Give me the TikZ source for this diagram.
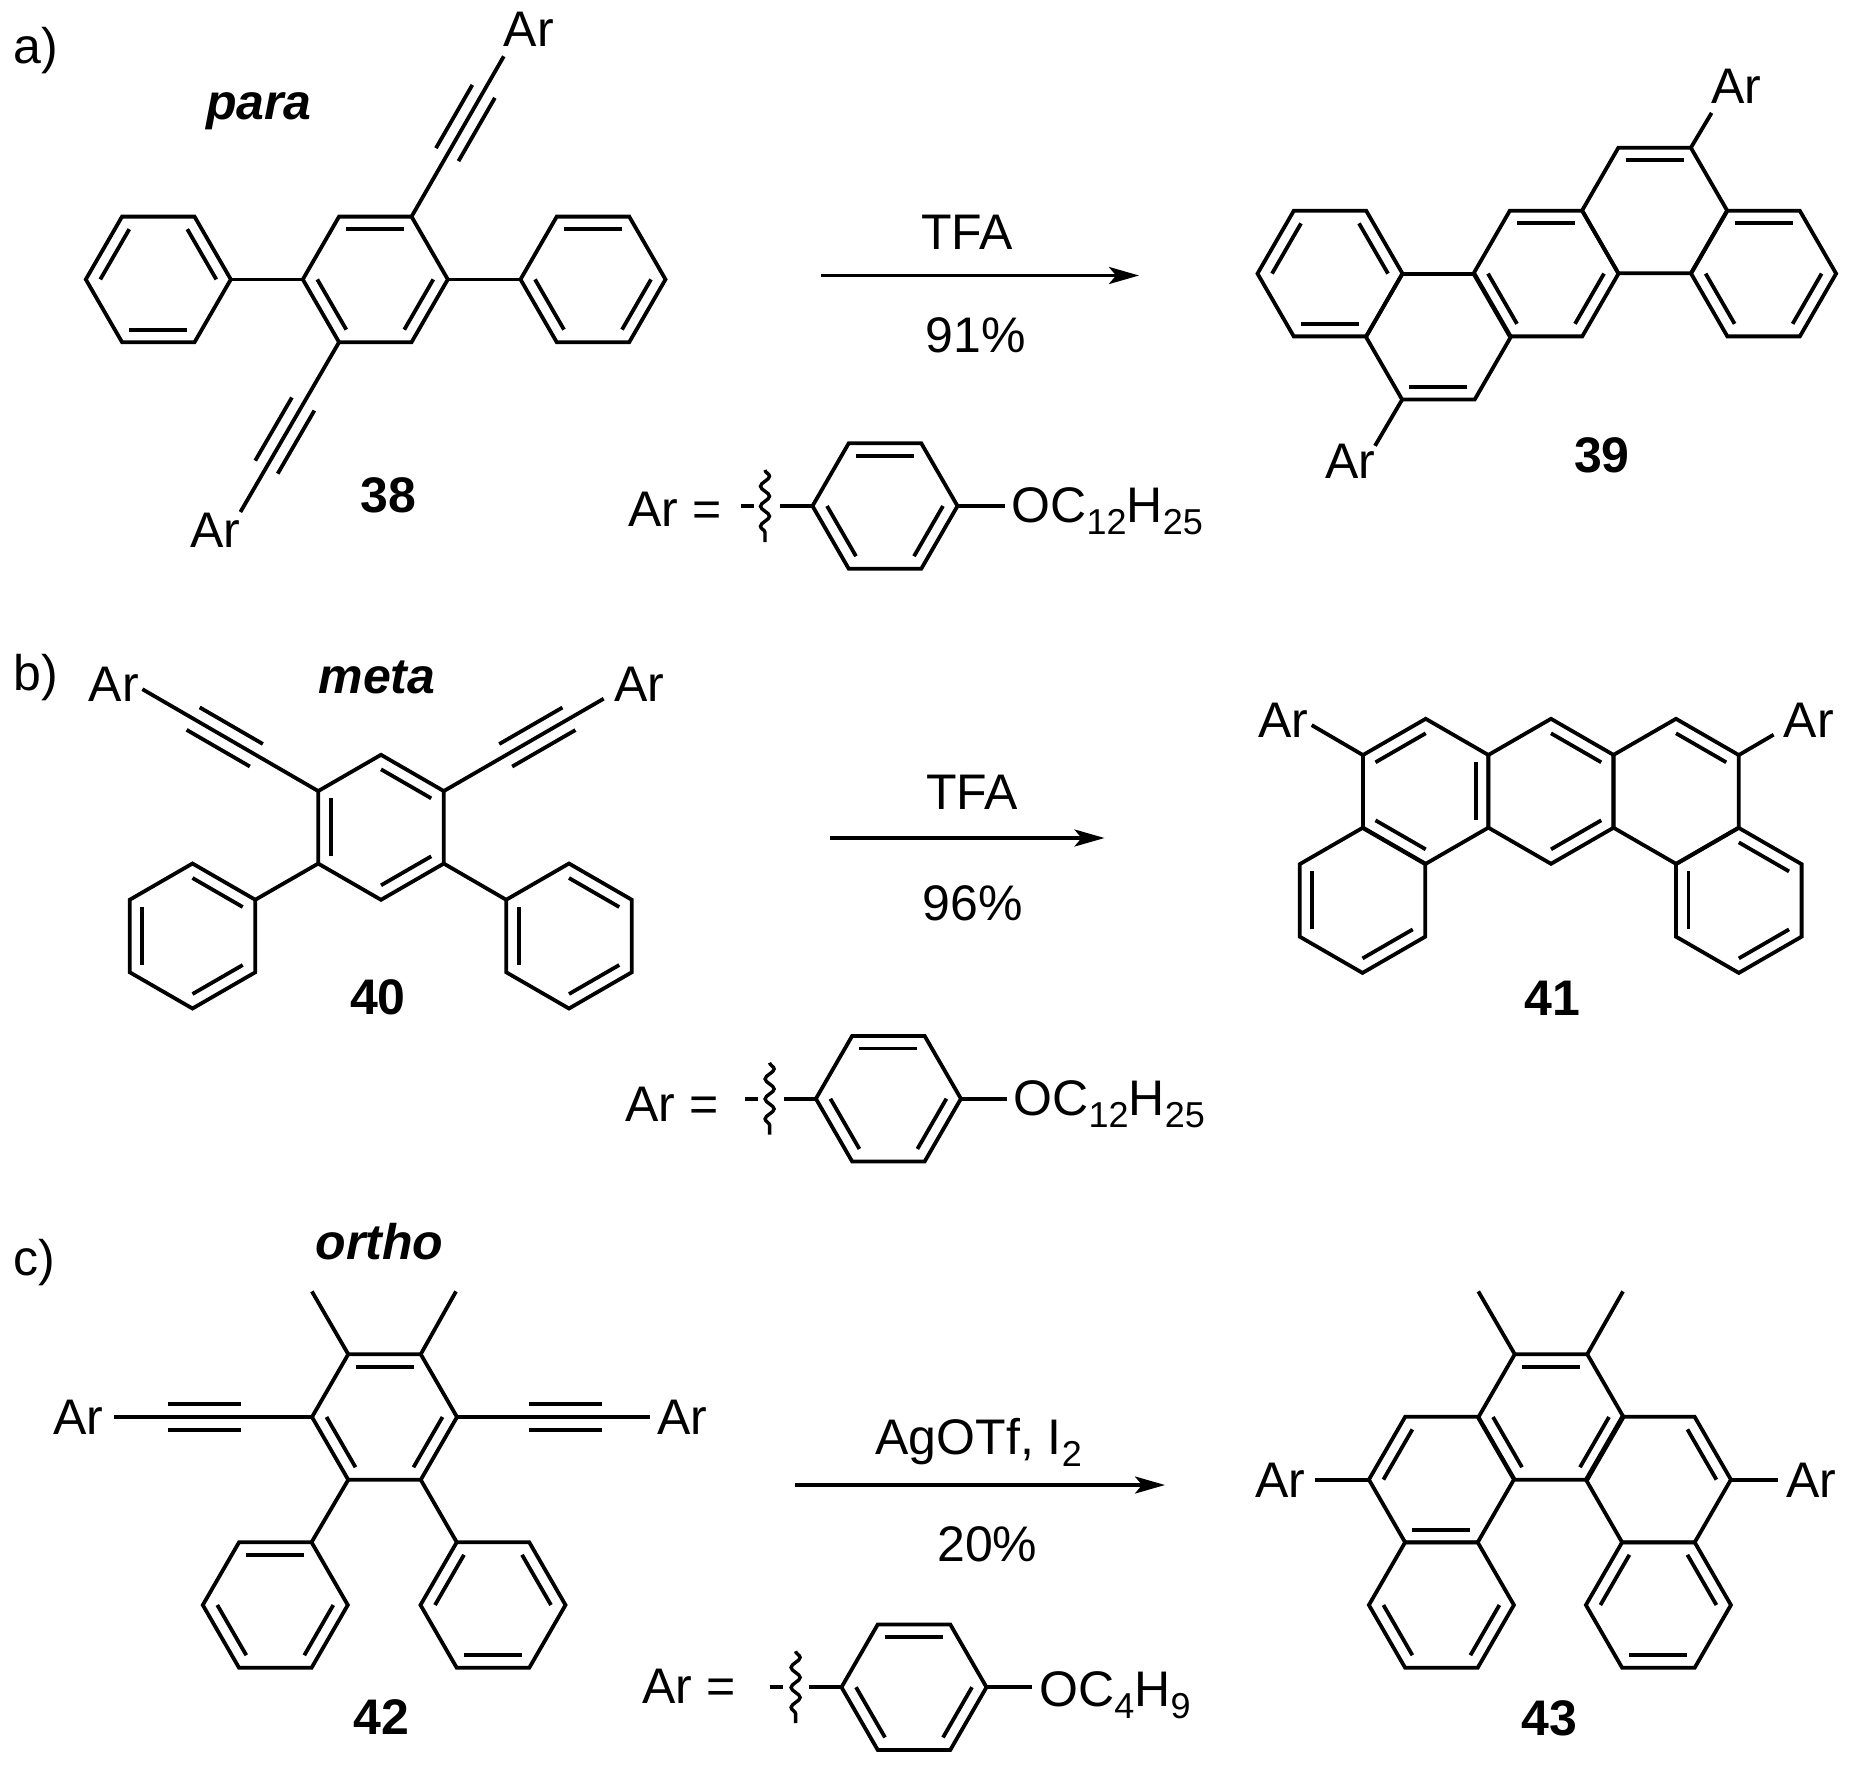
\documentclass[tikz,border=0pt]{standalone}
\usepackage{fontspec}
\setmainfont{Liberation Sans}
\usetikzlibrary{
  arrows.meta,
  calc,
  decorations.pathmorphing
}
\newcommand{\sbs}[1]{\raisebox{-12pt}{\fontsize{36}{36}\selectfont #1}}
\newcommand{\hexring}[5]{
  \coordinate (#1) at (#2,#3);
  \foreach \i in {1,...,6} {
    \coordinate (#1\i) at ($(#1)+({#4+60*(\i-1)}:72.5)$);
  }
  \draw [bond] (#11) -- (#12) -- (#13) -- (#14) -- (#15) -- (#16) -- cycle;
  \foreach \a/\b in {#5} {
    \draw [bond] ($(#1\a)!.2!(#1)$) -- ($(#1\b)!.2!(#1)$);
  }
}
\newcommand{\alkyne}[2]{
  \draw [bond] (#1) -- (#2);
  \draw [bond] ($(#1)!71.5pt!(#2)!13pt!90:(#2)$) -- ($(#1)!144.5pt!(#2)!13pt!90:(#2)$);
  \draw [bond] ($(#1)!71.5pt!(#2)!13pt!-90:(#2)$) -- ($(#1)!144.5pt!(#2)!13pt!-90:(#2)$);
}
\newcommand{\arcap}[5]{
  \coordinate (#1dash) at (#3,#2);
  \coordinate (#1top) at (#4,{#2-36});
  \coordinate (#1bot) at (#4,{#2+36});
  \coordinate (#1stub) at (#5,#2);
  \draw [bond] (#1dash) -- ++(13,0);
  \draw [wiggle] (#1top) -- (#1bot);
  \draw [bond] (#1stub) -- (#14);
}
\tikzset{
  bond/.style={line width=3.8pt},
  wiggle/.style={line width=3.4pt,decorate,decoration={snake,segment length=20pt,amplitude=4.5pt}},
  rxn/.style={line width=3.4pt,-{Stealth[length=30pt,width=17pt,inset=7pt]}},
  atom/.style={inner sep=0pt,anchor=base,font=\fontsize{50}{50}\selectfont},
  atomw/.style={atom,anchor=base west},
  cpd/.style={atom,font=\fontsize{50}{50}\selectfont\bfseries},
  iso/.style={cpd,font=\fontsize{50}{50}\selectfont\bfseries\itshape}
}
\begin{document}
\begin{tikzpicture}[x=1pt,y=-1pt]
  \useasboundingbox (0,0) rectangle (1852,1773);

  % a) para
  \node [atomw] (tagA) at (13,63) {a)};
  \node [iso] (para) at (259,119.4) {para};
  \hexring{pa}{158.3}{279.4}{0}{4/5,6/1,2/3}
  \hexring{pb}{375.3}{279.4}{0}{5/6,3/4,1/2}
  \hexring{pc}{593}{279.4}{0}{5/6,3/4,1/2}
  \draw [bond] (pa1) -- (pb4);
  \draw [bond] (pb1) -- (pc4);
  \node [atom] (arA1) at (528.7,46.7) {Ar};
  \node [atom] (arA2) at (215.3,547.3) {Ar};
  \coordinate (endA1) at (503.8,56.3);
  \coordinate (endA2) at (240.4,512);
  \alkyne{pb6}{endA1}
  \alkyne{pb3}{endA2}
  \node [cpd] (c38) at (388.4,512.8) {38};
  \coordinate (rxnA1) at (821,275.5);
  \coordinate (rxnA2) at (1139,275.5);
  \draw [rxn] (rxnA1) -- (rxnA2);
  \node [atom] (tfaA) at (967,249.5) {TFA};
  \node [atom] (yldA) at (976,352.8) {91\%};
  \node [atomw] (eqA) at (628,526.2) {Ar =};
  \hexring{ra}{885}{506}{0}{5/6,3/4,1/2}
  \arcap{ra}{506}{741}{765}{780}
  \coordinate (oA) at (1004.6,506);
  \draw [bond] (ra1) -- (oA);
  \node [atomw] (orA) at (1011.4,522.4) {OC\sbs{12}H\sbs{25}};
  \hexring{qa}{1330}{273.6}{0}{6/1,4/5,2/3}
  \hexring{qb}{1438.4}{336.8}{0}{2/3}
  \hexring{qc}{1546}{273.6}{0}{5/6,3/4,1/2}
  \hexring{qd}{1654.6}{210.5}{0}{5/6}
  \hexring{qe}{1763.6}{273.6}{0}{5/6,3/4,1/2}
  \coordinate (endA3) at (1711.6,112.9);
  \coordinate (endA4) at (1375,445.8);
  \draw [bond] (qd6) -- (endA3);
  \draw [bond] (qb3) -- (endA4);
  \node [atom] (arA3) at (1736,103.3) {Ar};
  \node [atom] (arA4) at (1350.5,478.4) {Ar};
  \node [cpd] (c39) at (1601.8,472.6) {39};

  % b) meta
  \node [atomw] (tagB) at (13,690) {b)};
  \node [iso] (meta) at (377,693.8) {meta};
  \hexring{ma}{381}{827.3}{30}{3/4,5/6,1/2}
  \hexring{mb}{192.5}{936}{30}{5/6,3/4,1/2}
  \hexring{mc}{569}{936}{30}{3/4,5/6,1/2}
  \draw [bond] (ma3) -- (mb6);
  \draw [bond] (ma1) -- (mc4);
  \node [atom] (arB1) at (113.7,701.4) {Ar};
  \node [atom] (arB2) at (639,701.4) {Ar};
  \coordinate (endB1) at (142.4,689.2);
  \coordinate (endB2) at (603.7,698.7);
  \alkyne{ma4}{endB1}
  \alkyne{ma6}{endB2}
  \node [cpd] (c40) at (378,1014) {40};
  \coordinate (rxnB1) at (830,838);
  \coordinate (rxnB2) at (1104.5,838);
  \draw [rxn] (rxnB1) -- (rxnB2);
  \node [atom] (tfaB) at (972,809.7) {TFA};
  \node [atom] (yldB) at (973,920.7) {96\%};
  \node [atomw] (eqB) at (625,1121) {Ar =};
  \hexring{rb}{888.4}{1098.7}{0}{5/6,3/4,1/2}
  \arcap{rb}{1098.7}{745}{769.6}{784.4}
  \coordinate (oB) at (1007,1098.7);
  \draw [bond] (rb1) -- (oB);
  \node [atomw] (orB) at (1013.4,1115.9) {OC\sbs{12}H\sbs{25}};
  \hexring{na}{1425.7}{791.3}{30}{4/5,2/3,6/1}
  \hexring{nb}{1551}{791.3}{30}{5/6,1/2}
  \hexring{nc}{1676}{791.3}{30}{5/6}
  \hexring{nd}{1362.5}{900.4}{30}{3/4,1/2}
  \hexring{ne}{1738.8}{900.4}{30}{3/4,5/6,1/2}
  \coordinate (endB3) at (1311.7,725.1);
  \coordinate (endB4) at (1773.6,734.7);
  \draw [bond] (na4) -- (endB3);
  \draw [bond] (nc6) -- (endB4);
  \node [atom] (arB3) at (1283.6,737.8) {Ar};
  \node [atom] (arB4) at (1808.7,737.8) {Ar};
  \node [cpd] (c41) at (1552,1015.2) {41};

  % c) ortho
  \node [atomw] (tagC) at (13,1275.7) {c)};
  \node [iso] (ortho) at (379.5,1259.2) {ortho};
  \hexring{oa}{384.5}{1417}{0}{5/6,3/4,1/2}
  \hexring{ob}{275.3}{1605}{0}{5/6,3/4,1/2}
  \hexring{oc}{493}{1605}{0}{4/5,6/1,2/3}
  \draw [bond] (oa3) -- (ob6);
  \draw [bond] (oa2) -- (oc5);
  \coordinate (meC1) at (311.9,1291.4);
  \coordinate (meC2) at (456,1291.4);
  \draw [bond] (oa5) -- (meC1);
  \draw [bond] (oa6) -- (meC2);
  \node [atom] (arC1) at (78.3,1434) {Ar};
  \node [atom] (arC2) at (682,1434) {Ar};
  \coordinate (endC1) at (114,1417);
  \coordinate (endC2) at (650,1417);
  \alkyne{oa4}{endC1}
  \alkyne{oa1}{endC2}
  \node [cpd] (c42) at (381.6,1734.7) {42};
  \coordinate (rxnC1) at (794.5,1485);
  \coordinate (rxnC2) at (1165,1485);
  \draw [rxn] (rxnC1) -- (rxnC2);
  \node [atomw] (agC) at (875.4,1454.8) {AgOTf, I\sbs{2}};
  \node [atom] (yldC) at (987.4,1561.8) {20\%};
  \node [atomw] (eqC) at (642,1703.7) {Ar =};
  \hexring{rc}{914}{1687.2}{0}{5/6,3/4,1/2}
  \arcap{rc}{1687.2}{769.6}{795.6}{809.2}
  \coordinate (oC) at (1032.3,1687.2);
  \draw [bond] (rc1) -- (oC);
  \node [atomw] (orC) at (1039.2,1706.2) {OC\sbs{4}H\sbs{9}};
  \hexring{sa}{1551}{1417}{0}{5/6,3/4,1/2}
  \hexring{sb}{1441.4}{1479.6}{0}{4/5,2/3}
  \hexring{sc}{1658.4}{1479.6}{0}{6/1}
  \hexring{sd}{1441.4}{1605}{0}{3/4,1/2}
  \hexring{se}{1658.4}{1605}{0}{4/5,6/1,2/3}
  \coordinate (meC3) at (1478.3,1291.4);
  \coordinate (meC4) at (1623,1291.4);
  \draw [bond] (sa5) -- (meC3);
  \draw [bond] (sa6) -- (meC4);
  \coordinate (endC3) at (1314.7,1479.6);
  \coordinate (endC4) at (1778.3,1479.6);
  \draw [bond] (sb4) -- (endC3);
  \draw [bond] (sc1) -- (endC4);
  \node [atom] (arC3) at (1280.4,1497) {Ar};
  \node [atom] (arC4) at (1811,1497) {Ar};
  \node [cpd] (c43) at (1549,1735.5) {43};
\end{tikzpicture}
\end{document}
